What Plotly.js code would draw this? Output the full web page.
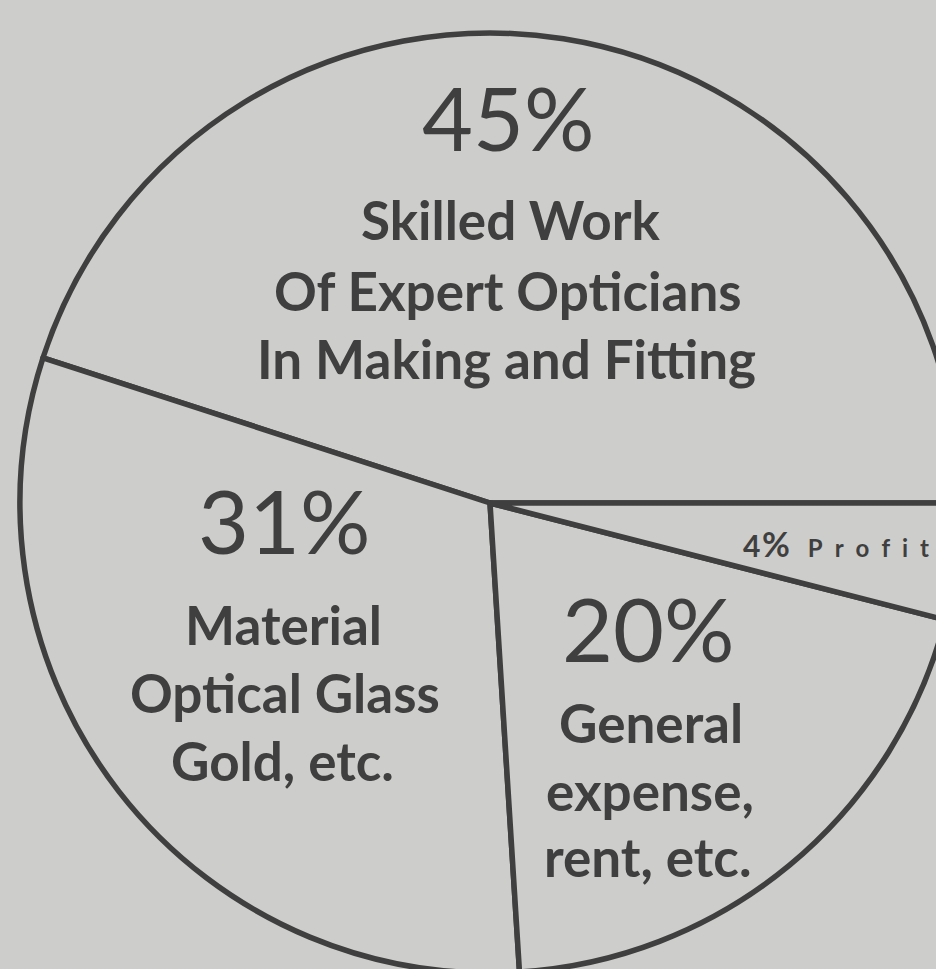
<!DOCTYPE html>
<html>
<head>
<meta charset="utf-8">
<script src="https://cdn.plot.ly/plotly-3.0.1.min.js"></script>
<style>
  html, body { margin: 0; padding: 0; background: #cdcdcb; overflow: hidden; }
  #chart { width: 1000px; height: 1000px; }
</style>
</head>
<body>
<div id="chart"></div>
<script>
// ---- data ----
const categories = ["Skilled Work Of Expert Opticians In Making and Fitting", "Material Optical Glass Gold, etc.", "General expense, rent, etc.", "Profit"];
const shares = [45, 31, 20, 4];
const pctLabels = ["45%", "31%", "20%", "4%"];
const descLines = [
  ["Skilled Work", "Of Expert Opticians", "In Making and Fitting"],
  ["Material", "Optical Glass", "Gold, etc."],
  ["General", "expense,", "rent, etc."],
  ["Profit"]
];

// ---- layout helpers (pixel -> paper, div is 1000x1000, no margins) ----
const W = 1000, H = 1000;
const px = x => x / W;
const py = y => 1 - y / H;

const ink = "#3f3f3f";
const bg = "#cdcdcb";
const labelFont = "Lato, 'Open Sans', sans-serif";

const annotations = [];
// percent headings
const pctPos = [[508, 117], [284, 520], [648, 628]];
for (let i = 0; i < 3; i++) {
  annotations.push({
    x: px(pctPos[i][0]), y: py(pctPos[i][1]), xref: "paper", yref: "paper",
    text: pctLabels[i], showarrow: false, xanchor: "center", yanchor: "middle",
    font: { family: labelFont, size: 88, color: ink }
  });
}
// description lines
const descPos = [
  [[510, 220], [508, 290], [506, 358]],
  [[283, 624], [285, 692], [282, 760]],
  [[651, 722], [650, 790], [648, 856]]
];
for (let i = 0; i < 3; i++) {
  descLines[i].forEach((t, j) => {
    annotations.push({
      x: px(descPos[i][j][0]), y: py(descPos[i][j][1]), xref: "paper", yref: "paper",
      text: "<b>" + t + "</b>", showarrow: false, xanchor: "center", yanchor: "middle",
      font: { family: labelFont, size: 53, color: ink }
    });
  });
}
// small profit label (widely spaced letters, as printed), kept inside the page
const spaced = descLines[3][0].split("").join("\u2002");
annotations.push({
  x: px(931), y: py(543), xref: "paper", yref: "paper",
  text: "<b><span style='font-size:30px'>" + pctLabels[3].replace("%", "") +
        "</span>\u200A<span style='font-size:34px'>%</span>\u2003" + spaced + "</b>",
  showarrow: false, xanchor: "right", yanchor: "middle",
  font: { family: labelFont, size: 24, color: ink }
});

const trace = {
  type: "pie",
  labels: categories,
  values: shares,
  sort: false,
  direction: "counterclockwise",
  rotation: -72,
  textinfo: "none",
  hoverinfo: "label+percent",
  showlegend: false,
  domain: { x: [0.020, 0.960], y: [0.027, 0.967] },
  marker: { colors: [bg, bg, bg, bg], line: { color: ink, width: 5.5 } }
};

const layout = {
  width: W, height: H,
  margin: { l: 0, r: 0, t: 0, b: 0, pad: 0 },
  paper_bgcolor: bg,
  plot_bgcolor: bg,
  showlegend: false,
  annotations: annotations
};

Plotly.newPlot("chart", [trace], layout, { displayModeBar: false, staticPlot: true });
</script>
</body>
</html>
